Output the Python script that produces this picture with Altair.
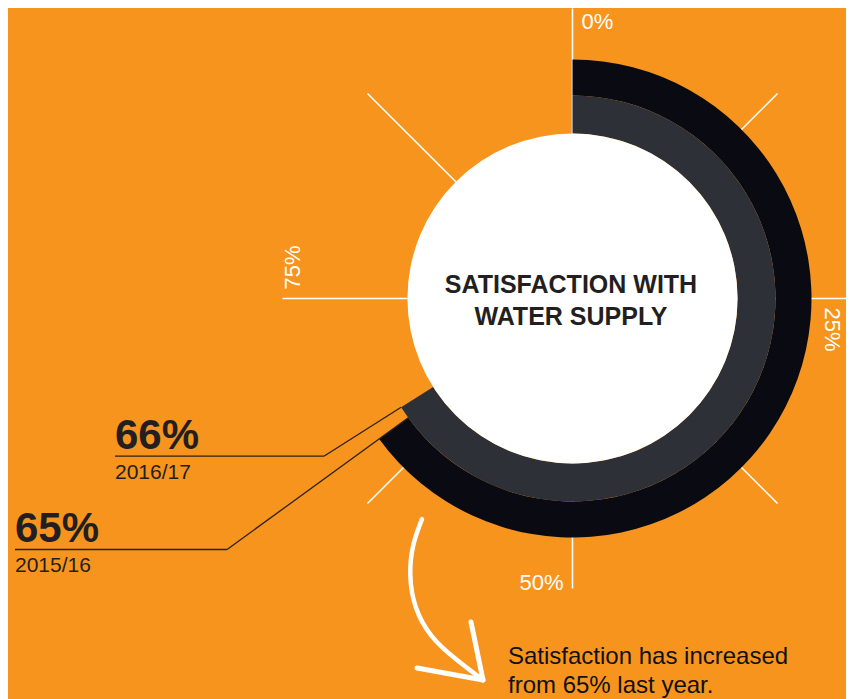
import altair as alt
import pandas as pd

# ---------------- data ----------------
years = ["2016/17", "2015/16"]
satisfaction = [66, 65]
value_labels = ["66%", "65%"]
tick_pcts = [0, 12.5, 25, 37.5, 50, 62.5, 75, 87.5]
tick_labels = ["0%", "25%", "50%", "75%"]
tick_label_pcts = [0, 25, 50, 75]
title_lines = ["SATISFACTION WITH", "WATER SUPPLY"]
note_lines = ["Satisfaction has increased", "from 65% last year."]

# ---------------- layout (pixels) ----------------
W, H = 838, 691
CX, CY = 564.5, 290.5            # dial centre inside the chart
R_WHITE, R_MID, R_OUT = 165, 203, 239
TICK_R0, TICK_R1 = 165, 290
leader_elbow_r = [294, 427]
label_left = [-457.5, -557.5]
arrow_x = [-150.5, -160.5, -163.5, -158.5, -142.5, -117.5, -89.5]
arrow_y = [-220.5, -246.5, -276.5, -309.5, -338.5, -360.5, -381.5]
barb_x = [-101.5, -155.5]
barb_y = [-323.5, -369.5]

ORANGE = "#F7941D"
BLACK = "#0A0B12"
GREY = "#2E3038"
INK = "#231F20"
SANS = "Liberation Sans, Arial, sans-serif"

xs = alt.Scale(domain=[-CX, W - CX], range=[0, W], nice=False, zero=False)
ys = alt.Scale(domain=[-(H - CY), CY], range=[H, 0], nice=False, zero=False)


def X(f):
    return alt.X(f + ":Q", scale=xs, axis=None)


def Y(f):
    return alt.Y(f + ":Q", scale=ys, axis=None)


rings = pd.DataFrame({"year": years, "value": satisfaction, "label": value_labels,
                      "elbow": leader_elbow_r, "left": label_left})
ticks = pd.DataFrame({"pct": tick_pcts})
tlabels = pd.DataFrame({"pct": tick_label_pcts, "label": tick_labels})
titles = pd.DataFrame({"text": title_lines, "row": [0, 1]})
notes = pd.DataFrame({"text": note_lines, "row": [0, 1]})
arrow = pd.DataFrame({"x": arrow_x, "y": arrow_y, "i": list(range(len(arrow_x)))})
barbs = pd.DataFrame({"x": barb_x, "y": barb_y,
                      "x2": [arrow_x[-1]] * 2, "y2": [arrow_y[-1]] * 2})

# radial tick lines
tick_rules = alt.Chart(ticks).transform_calculate(
    a="datum.pct / 100 * 2 * PI",
    x=f"{TICK_R0} * sin(datum.a)", y=f"{TICK_R0} * cos(datum.a)",
    x2=f"{TICK_R1} * sin(datum.a)", y2=f"{TICK_R1} * cos(datum.a)",
).mark_rule(color="white", strokeWidth=1.5).encode(
    x=X("x"), y=Y("y"), x2="x2:Q", y2="y2:Q")


def ring(year, r_out, r_in, color):
    return alt.Chart(rings).transform_filter(alt.datum.year == year).transform_calculate(
        t0="0", t1="datum.value / 100 * 2 * PI"
    ).mark_arc(radius=r_out, radius2=r_in, color=color).encode(
        theta=alt.Theta("t0:Q", scale=None), theta2="t1:Q",
        x=alt.value(CX), y=alt.value(CY))


outer = ring("2015/16", R_OUT, R_MID, BLACK)
inner = ring("2016/17", R_MID, R_WHITE, GREY)

white = alt.Chart(pd.DataFrame({"t0": [0.0]})).transform_calculate(
    t1="2 * PI").mark_arc(radius=R_WHITE, color="white").encode(
    theta=alt.Theta("t0:Q", scale=None), theta2="t1:Q",
    x=alt.value(CX), y=alt.value(CY))

# leader lines
lead = alt.Chart(rings).transform_calculate(
    a="datum.value / 100 * 2 * PI",
    x=f"{R_MID} * sin(datum.a)", y=f"{R_MID} * cos(datum.a)",
    xe="datum.elbow * sin(datum.a)", ye="datum.elbow * cos(datum.a)",
)
lead_radial = lead.mark_rule(color="#2B2118", strokeWidth=1.3).encode(
    x=X("x"), y=Y("y"), x2="xe:Q", y2="ye:Q")
lead_flat = lead.mark_rule(color="#2B2118", strokeWidth=1.3).encode(
    x=X("xe"), y=Y("ye"), x2="left:Q")
big_val = lead.mark_text(align="left", baseline="alphabetic", dy=-7, font=SANS,
                         fontSize=42, fontWeight="bold", color=INK).encode(
    x=X("left"), y=Y("ye"), text="label:N")
year_txt = lead.mark_text(align="left", baseline="alphabetic", dy=23, font=SANS,
                          fontSize=21, color=INK).encode(
    x=X("left"), y=Y("ye"), text="year:N")


# tick labels
def tick_text(pct, r, angle, align):
    return alt.Chart(tlabels).transform_filter(alt.datum.pct == pct).transform_calculate(
        a="datum.pct / 100 * 2 * PI",
        x=f"{r} * sin(datum.a) + 9 * cos(datum.a)",
        y=f"{r} * cos(datum.a) - 9 * sin(datum.a)",
    ).mark_text(align=align, baseline="alphabetic", angle=angle, font=SANS,
                fontSize=22, color="white").encode(x=X("x"), y=Y("y"), text="label:N")


tl0 = tick_text(0, 270, 0, "left")
tl25 = tick_text(25, 252, 90, "left")
tl50 = tick_text(50, 291.5, 0, "right")
tl75 = tick_text(75, 272.5, 270, "left")

title = alt.Chart(titles).transform_calculate(
    x="-1.5", y="5.5 - datum.row * 32"
).mark_text(align="center", baseline="alphabetic", font=SANS, fontSize=25,
            fontWeight="bold", color=INK).encode(x=X("x"), y=Y("y"), text="text:N")

note = alt.Chart(notes).transform_calculate(
    x="-64.5", y="-365.5 - datum.row * 29"
).mark_text(align="left", baseline="alphabetic", font=SANS, fontSize=24,
            color="#111111").encode(x=X("x"), y=Y("y"), text="text:N")

arrow_line = alt.Chart(arrow).mark_line(color="white", strokeWidth=4.5, interpolate="basis",
                                        strokeCap="round").encode(
    x=X("x"), y=Y("y"), order="i:Q")
arrow_barbs = alt.Chart(barbs).mark_rule(color="white", strokeWidth=5,
                                         strokeCap="round").encode(
    x=X("x"), y=Y("y"), x2="x2:Q", y2="y2:Q")

chart = alt.layer(
    tick_rules, outer, inner, white, lead_radial, lead_flat, big_val, year_txt,
    tl0, tl25, tl50, tl75, title, note, arrow_line, arrow_barbs,
).properties(
    width=W, height=H, background=ORANGE, padding=0, autosize="none"
).configure_view(stroke=None)

chart.save("out.html", embed_options={"renderer": "svg", "actions": False})
